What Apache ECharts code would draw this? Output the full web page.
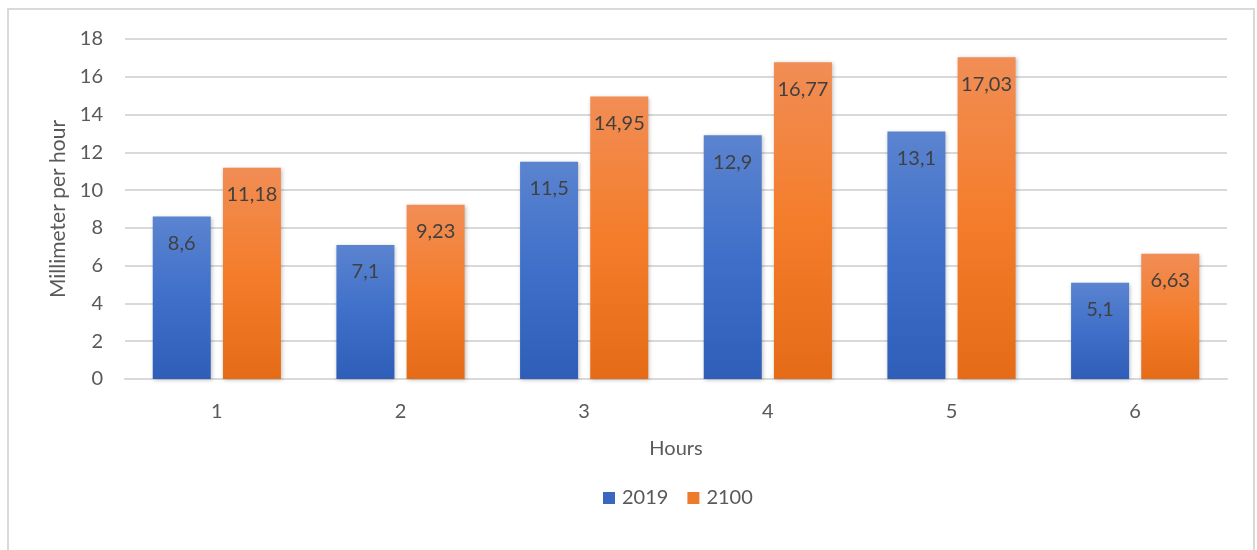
<!DOCTYPE html>
<html>
<head>
<meta charset="utf-8">
<script src="https://cdn.jsdelivr.net/npm/echarts@6/dist/echarts.min.js"></script>
<style>
  html, body { margin: 0; padding: 0; background: #fff; }
  #chart { width: 1257px; height: 550px; }
</style>
</head>
<body>
<div id="chart"></div>
<script>
// Rainfall intensity per hour, 2019 vs projected 2100
const hours = ['1', '2', '3', '4', '5', '6'];
const values2019 = [8.6, 7.1, 11.5, 12.9, 13.1, 5.1];
const values2100 = [11.18, 9.23, 14.95, 16.77, 17.03, 6.63];
const yTicks = { min: 0, max: 18, interval: 2 };

const FONT = 'Lato, "Liberation Sans", sans-serif';
const FS = 20;
const fmt = v => String(v).replace('.', ',');

function grad(top, mid, bottom) {
  return new echarts.graphic.LinearGradient(0, 0, 0, 1, [
    { offset: 0, color: top },
    { offset: 0.5, color: mid },
    { offset: 1, color: bottom }
  ]);
}

function barSeries(name, data, colors) {
  return {
    name,
    type: 'bar',
    data,
    barWidth: 58,
    barGap: '21%',
    itemStyle: {
      color: grad(colors[0], colors[1], colors[2]),
      shadowBlur: 4,
      shadowColor: 'rgba(0,0,0,0.25)',
      shadowOffsetX: 1,
      shadowOffsetY: 1
    },
    label: {
      show: true,
      position: 'insideTop',
      distance: 17,
      formatter: p => fmt(p.value),
      color: '#404040',
      fontFamily: FONT,
      fontSize: FS
    }
  };
}

const chart = echarts.init(document.getElementById('chart'));
chart.setOption({
  animation: false,
  backgroundColor: '#ffffff',
  graphic: [{
    type: 'rect',
    shape: { x: 8, y: 9, width: 1246, height: 600 },
    style: { fill: 'none', stroke: '#d9d9d9', lineWidth: 2 },
    z: -1
  }],
  grid: { left: 125, right: 30, top: 39, bottom: 171 },
  legend: {
    data: [
      { name: '2019', itemStyle: { color: '#3a67c0' } },
      { name: '2100', itemStyle: { color: '#ee7a2c' } }
    ],
    top: 483,
    left: 598,
    icon: 'rect',
    itemWidth: 12,
    itemHeight: 12,
    itemGap: 19,
    textStyle: { color: '#595959', fontFamily: FONT, fontSize: FS, padding: [0, 0, 0, 2] }
  },
  xAxis: {
    type: 'category',
    data: hours,
    name: 'Hours',
    nameLocation: 'middle',
    nameGap: 60,
    nameTextStyle: { color: '#595959', fontFamily: FONT, fontSize: FS },
    axisLine: { lineStyle: { color: '#d9d9d9', width: 2 } },
    axisTick: { show: false },
    axisLabel: { color: '#595959', fontFamily: FONT, fontSize: FS, margin: 23 }
  },
  yAxis: {
    type: 'value',
    min: yTicks.min,
    max: yTicks.max,
    interval: yTicks.interval,
    name: 'Millimeter per hour',
    nameLocation: 'middle',
    nameGap: 54,
    nameRotate: 90,
    nameTextStyle: { color: '#595959', fontFamily: FONT, fontSize: 21 },
    axisLine: { show: false },
    axisTick: { show: false },
    axisLabel: { color: '#595959', fontFamily: FONT, fontSize: FS, margin: 22 },
    splitLine: { lineStyle: { color: '#d9d9d9', width: 2 } }
  },
  series: [
    barSeries('2019', values2019, ['#5b84d0', '#3f6fc9', '#2e5eb8']),
    barSeries('2100', values2100, ['#f18d55', '#f47d2b', '#e56b17'])
  ]
});
</script>
</body>
</html>
